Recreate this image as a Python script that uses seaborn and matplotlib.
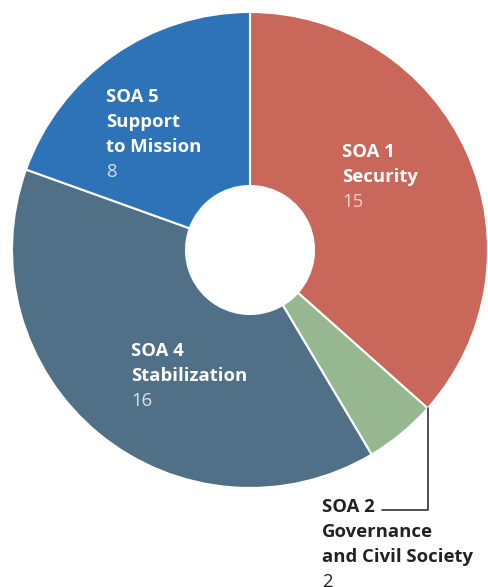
import numpy as np
import seaborn as sn
import matplotlib.pyplot as plt

# data
labels = ["SOA 1\nSecurity", "SOA 2\nGovernance\nand Civil Society", "SOA 4\nStabilization", "SOA 5\nSupport\nto Mission"]
values = [15, 2, 16, 8]
colors = ["#c9675a", "#96b78f", "#4f7086", "#2e73b8"]

sn.set_theme(style="white")
plt.rcParams['font.family'] = ['Open Sans', 'DejaVu Sans']

W, H = 489, 587
fig = plt.figure(figsize=(W / 100, H / 100), dpi=100)
cx, cy, R = 250, 250, 238
ax = fig.add_axes([(cx - R) / W, (H - cy - R) / H, 2 * R / W, 2 * R / H])

wedges, _ = ax.pie(values, colors=colors, startangle=90, counterclock=False,
                   radius=1, wedgeprops=dict(width=1 - 64 / R, edgecolor="white", linewidth=1.5))
ax.set_xlim(-1, 1)
ax.set_ylim(-1, 1)
ax.set_aspect("equal")
ax.axis("off")

def px(x, y):
    # pixel position -> data coords
    return (x - cx) / R, (cy - y) / R

# label positions (top-left of each label block, pixels)
label_pos = [(342, 143), (322, 498), (131, 342), (106, 88)]
num_colors = ["#f3d3cc", "#222222", "#d8e2ea", "#cfe0f2"]
label_colors = ["white", "#222222", "white", "white"]
fs = 13.3
lh = 25
for lab, v, (x, y), lc, nc in zip(labels, values, label_pos, label_colors, num_colors):
    n = lab.count("\n") + 1
    for i, line in enumerate(lab.split("\n")):
        ax.text(*px(x, y + i * lh), line, color=lc, fontsize=fs, fontweight="bold",
                ha="left", va="top")
    ax.text(*px(x, y + n * lh), str(v), color=nc, fontsize=fs, ha="left", va="top")

# leader line for SOA 2, starting at the wedge boundary
ang = np.deg2rad(wedges[0].theta1)
x0, y0 = np.cos(ang), np.sin(ang)
ax.plot([x0, x0, px(382, 0)[0]], [y0, px(0, 510)[1], px(0, 510)[1]],
        color="#333333", lw=1.2, clip_on=False)

fig.savefig("out.png", dpi=100)
